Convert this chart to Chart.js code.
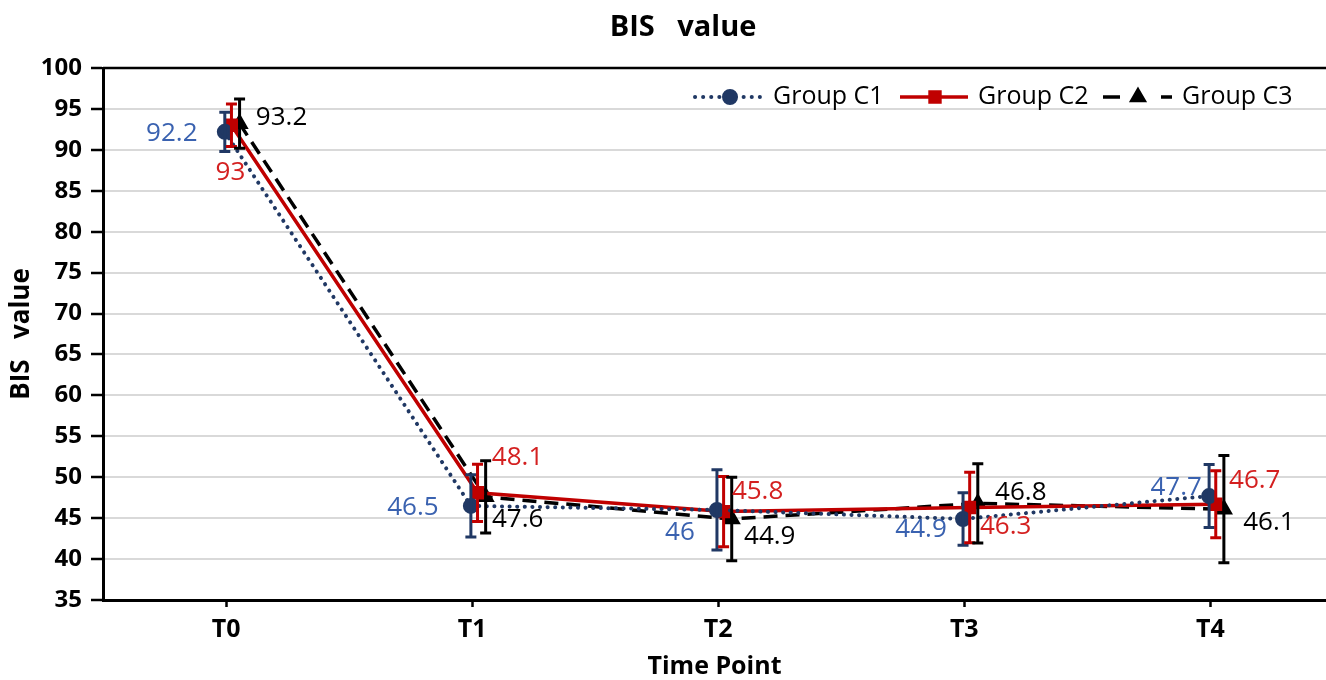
<!DOCTYPE html>
<html>
<head>
<meta charset="utf-8">
<script src="https://cdn.jsdelivr.net/npm/chart.js@4.4.1/dist/chart.umd.min.js"></script>
<style>
  html, body { margin: 0; padding: 0; background: #fff; }
  #wrap { width: 1326px; height: 680px; position: relative; }
</style>
</head>
<body>
<div id="wrap"><canvas id="c"></canvas></div>
<script>
// ---- data ----
const categories = ['T0', 'T1', 'T2', 'T3', 'T4'];
const seriesNames = ['Group C1', 'Group C2', 'Group C3'];
const meanC1 = [92.2, 46.5, 46, 44.9, 47.7];
const meanC2 = [93, 48.1, 45.8, 46.3, 46.7];
const meanC3 = [93.2, 47.6, 44.9, 46.8, 46.1];
const sdC1 = [2.4, 3.8, 4.9, 3.2, 3.85];
const sdC2 = [2.6, 3.5, 4.3, 4.3, 4.1];
const sdC3 = [3.0, 4.4, 5.1, 4.85, 6.55];
const yTicks = [35, 40, 45, 50, 55, 60, 65, 70, 75, 80, 85, 90, 95, 100];
const chartTitle = 'BIS   value';
const yTitle = 'BIS   value';
const xTitle = 'Time Point';

// ---- styling / placement config ----
const FONT = '"Open Sans", "DejaVu Sans", sans-serif';
const xShift = [-0.005, 0.022, 0.055];
const lineColors = ['#203864', '#C00000', '#000000'];
const labelColors = ['#3A62B0', '#D42020', '#000000'];
// label offsets in pixels relative to each point [dx, dy]
const labelOffsets = [
  [[-53, 2], [-58, 2], [-37, 23], [-42, 11], [-33, -8]],
  [[-1, 47], [40, -35], [34, -20], [36, 19], [39, -24]],
  [[42, -6], [32, 23], [38, 18], [43, -11], [45, 13]]
];

const means = [meanC1, meanC2, meanC3];
const sds = [sdC1, sdC2, sdC3];

const datasets = means.map((m, s) => ({
  label: seriesNames[s],
  data: m.map((v, i) => ({ x: i + xShift[s], y: v })),
  borderColor: lineColors[s],
  backgroundColor: lineColors[s],
  pointBackgroundColor: lineColors[s],
  pointBorderColor: lineColors[s],
  borderWidth: s === 0 ? 4 : 3.5,
  borderDash: s === 0 ? [0.1, 7.5] : (s === 2 ? [14, 8] : []),
  borderCapStyle: s === 0 ? 'round' : 'butt',
  pointStyle: ['circle', 'rect', 'triangle'][s],
  pointRadius: [6, 7, 7][s],
  pointHoverRadius: [6, 7, 7][s],
  tension: 0,
  fill: false
}));

const errorBars = {
  id: 'errorBars',
  afterDatasetsDraw(chart) {
    const ctx = chart.ctx, ys = chart.scales.y, xs = chart.scales.x;
    ctx.save();
    means.forEach((m, s) => {
      ctx.strokeStyle = lineColors[s];
      ctx.lineWidth = 3;
      ctx.setLineDash([]);
      m.forEach((v, i) => {
        const x = xs.getPixelForValue(i + xShift[s]);
        const top = ys.getPixelForValue(v + sds[s][i]);
        const bot = ys.getPixelForValue(v - sds[s][i]);
        const cw = 5.5;
        ctx.beginPath();
        ctx.moveTo(x, top); ctx.lineTo(x, bot);
        ctx.moveTo(x - cw, top); ctx.lineTo(x + cw, top);
        ctx.moveTo(x - cw, bot); ctx.lineTo(x + cw, bot);
        ctx.stroke();
      });
    });
    ctx.restore();
  }
};

const dataLabels = {
  id: 'dataLabels',
  afterDraw(chart) {
    const ctx = chart.ctx, ys = chart.scales.y, xs = chart.scales.x;
    ctx.save();
    ctx.font = '26px ' + FONT;
    ctx.textAlign = 'center';
    ctx.textBaseline = 'middle';
    means.forEach((m, s) => {
      ctx.fillStyle = labelColors[s];
      m.forEach((v, i) => {
        const x = xs.getPixelForValue(i + xShift[s]);
        const y = ys.getPixelForValue(v);
        const o = labelOffsets[s][i];
        ctx.fillText(String(v), x + o[0], y + o[1]);
      });
    });
    ctx.restore();
  }
};

const frameAndTitle = {
  id: 'frameAndTitle',
  afterDatasetsDraw(chart) {
    const ctx = chart.ctx, a = chart.chartArea;
    ctx.save();
    ctx.strokeStyle = '#000';
    ctx.lineWidth = 2.5;
    ctx.beginPath();
    ctx.moveTo(a.left, a.top);
    ctx.lineTo(a.right, a.top);
    ctx.stroke();
    ctx.restore();
  },
  afterDraw(chart) {
    const ctx = chart.ctx;
    ctx.save();
    ctx.fillStyle = '#000';
    ctx.font = 'bold 29px ' + FONT;
    ctx.textAlign = 'center';
    ctx.textBaseline = 'middle';
    ctx.fillText(chartTitle, 683, 28);
    ctx.restore();
  }
};

const customLegend = {
  id: 'customLegend',
  afterDraw(chart) {
    const ctx = chart.ctx;
    const y = 97;
    const items = [
      { x1: 695, x2: 760, mx: 730, tx: 773 },
      { x1: 900, x2: 968, mx: 935, tx: 978 },
      { x1: 1103, x2: 1172, mx: 1138, tx: 1182 }
    ];
    ctx.save();
    items.forEach((it, s) => {
      ctx.strokeStyle = lineColors[s];
      ctx.fillStyle = lineColors[s];
      ctx.lineWidth = s === 0 ? 4 : 3.5;
      ctx.lineCap = s === 0 ? 'round' : 'butt';
      if (s === 2) {
        ctx.setLineDash([]);
        ctx.beginPath();
        ctx.moveTo(it.x1, y); ctx.lineTo(it.x1 + 17, y);
        ctx.moveTo(it.x2 - 11, y); ctx.lineTo(it.x2, y);
        ctx.stroke();
      } else {
        ctx.setLineDash(s === 0 ? [0.1, 8] : []);
        ctx.beginPath();
        ctx.moveTo(it.x1, y); ctx.lineTo(it.x2, y);
        ctx.stroke();
      }
      ctx.setLineDash([]);
      Chart.helpers.drawPoint(ctx, {
        pointStyle: ['circle', 'rect', 'triangle'][s],
        radius: [6, 7, 7][s],
        borderWidth: 1
      }, it.mx, y);
      ctx.fillStyle = '#000';
      ctx.font = '25px ' + FONT;
      ctx.textAlign = 'left';
      ctx.textBaseline = 'middle';
      ctx.fillText(seriesNames[s], it.tx, y);
    });
    ctx.restore();
  }
};

new Chart(document.getElementById('c'), {
  type: 'line',
  data: { datasets },
  plugins: [frameAndTitle, errorBars, dataLabels, customLegend],
  options: {
    responsive: true,
    maintainAspectRatio: false,
    animation: false,
    layout: { autoPadding: false, padding: { top: 68, right: 0, left: 0, bottom: 0 } },
    plugins: {
      legend: { display: false },
      tooltip: { enabled: false },
      title: { display: false }
    },
    scales: {
      x: {
        type: 'linear',
        min: -0.5,
        max: 4.47,
        afterBuildTicks(scale) { scale.ticks = categories.map((c, i) => ({ value: i })); },
        afterFit(scale) { scale.height = 80; scale.paddingLeft = 0; scale.paddingRight = 0; },
        ticks: {
          callback: (v) => categories[v] ?? '',
          color: '#000',
          font: { family: FONT, size: 25, weight: 'bold' },
          padding: 8,
          maxRotation: 0,
          autoSkip: false
        },
        grid: { display: true, drawOnChartArea: false, drawTicks: true, tickLength: 7, tickColor: '#000', tickWidth: 2.5 },
        border: { display: true, color: '#000', width: 3 },
        title: {
          display: true,
          text: xTitle,
          color: '#000',
          font: { family: FONT, size: 25, weight: 'bold' },
          padding: { top: 0, bottom: -2 }
        }
      },
      y: {
        min: 35,
        max: 100,
        afterBuildTicks(scale) { scale.ticks = yTicks.map(v => ({ value: v })); },
        afterFit(scale) { scale.width = 103; scale.paddingTop = 0; scale.paddingBottom = 0; },
        ticks: {
          color: '#000',
          font: { family: FONT, size: 24, weight: 'bold' },
          padding: 9
        },
        grid: { color: '#d9d9d9', lineWidth: 2, drawTicks: true, tickLength: 12, tickColor: '#000', tickWidth: 2.5 },
        border: { display: true, color: '#000', width: 3 },
        title: {
          display: true,
          text: yTitle,
          color: '#000',
          font: { family: FONT, size: 26, weight: 'bold' },
          padding: { top: 6, bottom: 0 }
        }
      }
    }
  }
});
</script>
</body>
</html>
